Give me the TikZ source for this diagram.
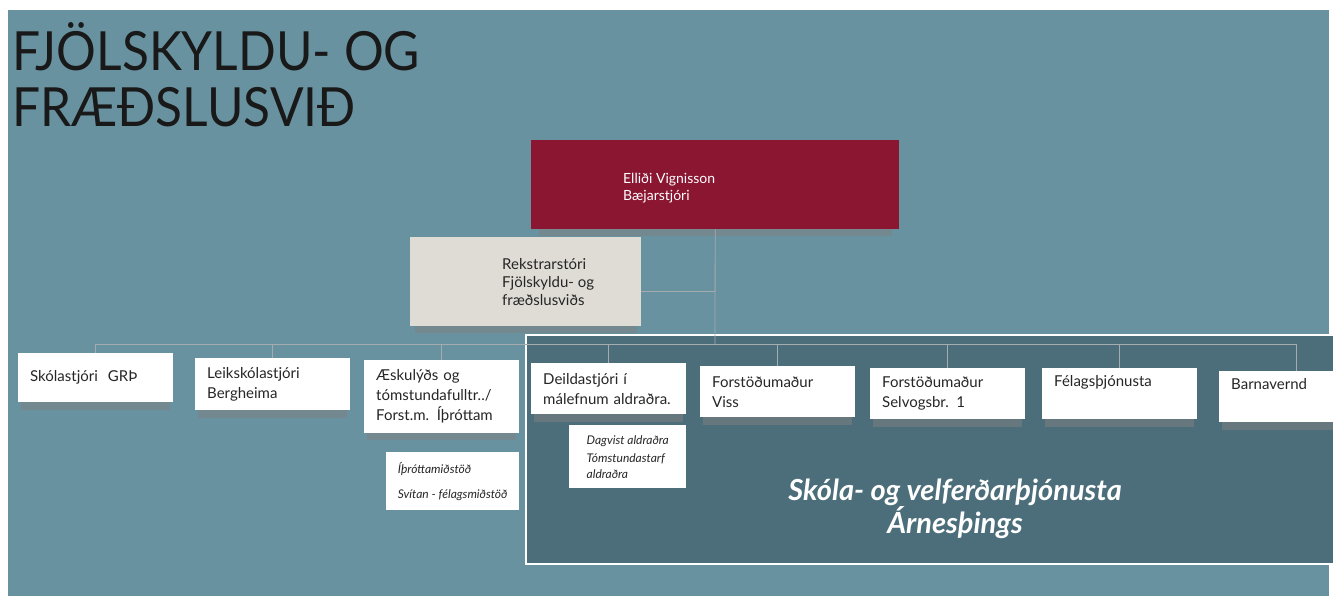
\documentclass[tikz,border=0pt]{standalone}
\usepackage{fontspec}
\setmainfont{Lato}
\usetikzlibrary{positioning,shadows}

\definecolor{slate}{RGB}{104,146,160}
\definecolor{deepslate}{RGB}{76,110,122}
\definecolor{wine}{RGB}{138,22,50}
\definecolor{stone}{RGB}{223,220,213}
\definecolor{wire}{RGB}{165,172,176}

\tikzset{
  boxshadow/.style={drop shadow={shadow xshift=0pt, shadow yshift=-9pt, shadow scale=.96, opacity=.5}},
  unit/.style={fill=white, anchor=north west, align=left, text width=131pt,
    inner xsep=12pt, inner ysep=0pt, minimum height=51pt, text=black!85,
    font=\fontsize{15}{20}\selectfont, boxshadow},
  subunit/.style={fill=white, anchor=north west, align=left, inner sep=0pt,
    text=black!85, font=\itshape\fontsize{12}{16}\selectfont},
  bossbox/.style={fill=wine, anchor=north west, minimum width=368pt, minimum height=89pt, boxshadow},
  chiefbox/.style={fill=stone, anchor=north west, minimum width=231pt, minimum height=89pt, boxshadow},
  boxtext/.style={align=left, inner sep=0pt},
  conn/.style={draw=wire, line width=0.8pt},
}

\begin{document}
\begin{tikzpicture}[x=1pt, y=-1pt]
    \useasboundingbox (0,0) rectangle (1333,596);
    \fill[slate] (8,10) rectangle (1329,596);

    % Title
    \node[anchor=north west, align=left, inner sep=0pt, text=black!90,
      font=\fontsize{54}{56}\selectfont, xscale=.92, transform shape] (heading) at (12,22)
      {FJÖLSKYLDU- OG\\FRÆÐSLUSVIÐ};

    % Skóla- og velferðarþjónusta
    \node[fill=deepslate, draw=white, line width=1.5pt, anchor=north west,
      minimum width=815pt, minimum height=229pt] (svf) at (525,334) {};
    \node[align=center, text=white, font=\bfseries\itshape\fontsize{29}{33}\selectfont]
      (svfname) at (955,509) {Skóla- og velferðarþjónusta\\Árnesþings};

    % Define nodes
    \node[bossbox] (boss) at (531,140) {};
    \node[boxtext, text=white, font=\fontsize{14}{17}\selectfont,
      right=92pt of boss.west, yshift=-3pt] (bossname) {Elliði Vignisson\\Bæjarstjóri};
    \node[chiefbox] (rekstur) at (410,237) {};
    \node[boxtext, text=black!85, font=\fontsize{15}{18}\selectfont,
      right=92pt of rekstur.west] (rekstrarname) {Rekstrarstóri\\Fjölskyldu- og\\fræðslusviðs};

    \node[unit, minimum height=49pt] (skola) at (18,353) {Skólastjóri\ \ GRÞ};
    \node[unit, minimum height=52pt] (leik) at (195,358) {Leikskólastjóri\\Bergheima};
    \node[unit, minimum height=73pt] (aeska) at (364,360) {Æskulýðs og\\tómstundafulltr../\\Forst.m. Íþróttam};
    \node[unit] (deild) at (531,363) {Deildastjóri í\\málefnum aldraðra.};
    \node[unit] (viss) at (700,366) {Forstöðumaður\\Viss};
    \node[unit] (selv) at (870,368) {Forstöðumaður\\Selvogsbr. 1};
    \node[unit] (felag) at (1042,368) {Félagsþjónusta\\\strut};
    \node[unit] (barna) at (1219,371) {Barnavernd\\\strut};

    \node[subunit, minimum width=133pt, minimum height=58pt] (ithrott) at (386,452)
      {Íþróttamiðstöð\\[9pt]Svítan - félagsmiðstöð};
    \node[subunit, minimum width=117pt, minimum height=63pt] (dagvist) at (569,425)
      {Dagvist aldraðra\\[2pt]Tómstundastarf\\aldraðra};

    % Connect nodes
    \coordinate (bus) at (715,344);
    \draw[conn] (boss.south) -- (bus);
    \draw[conn] ([yshift=-10pt]rekstur.east) -- ([yshift=-10pt]rekstur.east -| boss.south);
    \foreach \u in {skola,leik,aeska,deild,viss,selv,felag,barna}
      \draw[conn] (bus) -| (\u.north);
\end{tikzpicture}
\end{document}
